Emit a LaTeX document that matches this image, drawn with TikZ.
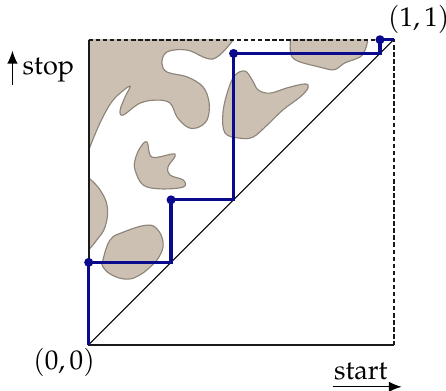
\documentclass[tikz,border=0pt]{standalone}
\usepackage[T1]{fontenc}
\usepackage{mathpazo}
\usepackage{tikz}
\usepackage{xcolor}
\usetikzlibrary{arrows.meta,positioning,calc}
\definecolor{pathblue}{HTML}{0A0A8C}
\definecolor{blobfill}{HTML}{CCC0B2}
\definecolor{blobline}{HTML}{8C8478}
\definecolor{ink}{HTML}{1A1A1A}
\tikzset{
  blob/.style={fill=blobfill,draw=blobline,line width=0.4pt},
  edge/.style={draw=ink,line width=0.6pt},
  dashedge/.style={draw=ink,line width=0.6pt,dash pattern=on 1.6pt off 0.9pt},
  diag/.style={draw=black,line width=0.4pt},
  stair/.style={draw=pathblue,line width=1.1pt,line join=miter},
  dot/.style={circle,fill=pathblue,inner sep=0pt,minimum size=3.2pt},
  lbl/.style={inner sep=1pt,font=\fontsize{9.6}{11}\selectfont},
  axarr/.style={-{Latex[length=1.6mm,width=1.3mm]},line width=0.45pt,draw=black}
}

\begin{document}
\begin{tikzpicture}[x=3.8cm,y=3.8cm]
    \path[use as bounding box] (-0.2908,-0.1485) rectangle (1.1715,1.1302);

    % obstacles, clipped to the square
    \begin{scope}
      \clip (0,0) rectangle (1,1);
      \path[blob] (-0.1,0.638) -- (-0.1,1.1) -- (0.474,1.1)
        -- plot[smooth,tension=0.6] coordinates {
          (0.474,1.0) (0.408,0.937) (0.323,0.966) (0.257,0.960)
          (0.240,0.924) (0.257,0.894) (0.323,0.878) (0.375,0.845)
          (0.395,0.792) (0.388,0.737) (0.355,0.711) (0.323,0.714)
          (0.290,0.746) (0.267,0.792) (0.224,0.802) (0.168,0.792)
          (0.113,0.753) (0.103,0.769) (0.119,0.812) (0.135,0.848)
          (0.080,0.802) (0.037,0.727) (0,0.638)}
        -- cycle;
      \path[blob] (-0.1,0.311) -- (-0.1,0.547)
        -- plot[smooth,tension=0.7] coordinates {
          (0,0.547) (0.037,0.508) (0.061,0.452) (0.054,0.387)
          (0.027,0.344) (0,0.311)}
        -- cycle;
      \path[blob] (0.661,1.1) -- (0.913,1.1)
        -- plot[smooth,tension=0.6] coordinates {
          (0.913,1.0) (0.913,0.989) (0.906,0.966) (0.889,0.943)
          (0.840,0.924) (0.817,0.907) (0.798,0.901) (0.758,0.910)
          (0.693,0.927) (0.667,0.943) (0.661,0.966) (0.661,1.0)}
        -- cycle;
    \end{scope}
    \path[blob] plot[smooth cycle,tension=0.6] coordinates {
      (0.191,0.665) (0.208,0.615) (0.283,0.625) (0.260,0.583)
      (0.267,0.556) (0.310,0.540) (0.310,0.517) (0.234,0.511)
      (0.178,0.524) (0.152,0.573) (0.152,0.606) (0.168,0.645)};
    \path[blob] plot[smooth cycle,tension=0.7] coordinates {
      (0.047,0.278) (0.070,0.343) (0.113,0.369) (0.191,0.392)
      (0.227,0.376) (0.244,0.333) (0.234,0.294) (0.208,0.261)
      (0.168,0.229) (0.126,0.215) (0.077,0.228) (0.047,0.255)};
    \path[blob] plot[smooth cycle,tension=0.6] coordinates {
      (0.513,0.897) (0.536,0.868) (0.556,0.835) (0.595,0.825)
      (0.650,0.842) (0.709,0.855) (0.719,0.842) (0.693,0.812)
      (0.637,0.770) (0.585,0.720) (0.539,0.681) (0.496,0.677)
      (0.447,0.694) (0.440,0.759) (0.457,0.835) (0.480,0.884)};

    % square and diagonal
    \coordinate (o) at (0,0);
    \coordinate (ur) at (1,1);
    \coordinate (lr) at (1,0);
    \coordinate (ul) at (0,1);
    \draw[diag] (o) -- (ur);
    \draw[dashedge] (ul) -- (ur) -- (lr);
    \draw[edge] (ul) -- (o) -- (lr);

    % staircase
    \node[dot] (d1) at (0,0.27) {};
    \node[dot] (d2) at (0.27,0.475) {};
    \node[dot] (d3) at (0.475,0.955) {};
    \node[dot] (d4) at (0.955,1) {};
    \coordinate (s1) at (0.27,0.27);
    \coordinate (s2) at (0.475,0.475);
    \coordinate (s3) at (0.955,0.955);
    \draw[stair] (o) -- (d1.center) -- (s1) -- (d2.center) -- (s2)
      -- (d3.center) -- (s3) -- (d4.center) -- (ur);

    % labels
    \node[lbl] (orig) at (-0.081,-0.057) {$(0,0)$};
    \node[lbl] (one) at (1.082,1.065) {$(1,1)$};
    \node[lbl] (stop) at (-0.132,0.900) {stop};
    \node[lbl] (start) at (0.892,-0.089) {start};
    \coordinate (stopa) at (-0.25,0.851);
    \coordinate (stopb) at (-0.25,0.964);
    \coordinate (starta) at (0.80,-0.138);
    \coordinate (startb) at (1.026,-0.138);
    \draw[axarr] (stopa) -- (stopb);
    \draw[axarr] (starta) -- (startb);
  \end{tikzpicture}
\end{document}
